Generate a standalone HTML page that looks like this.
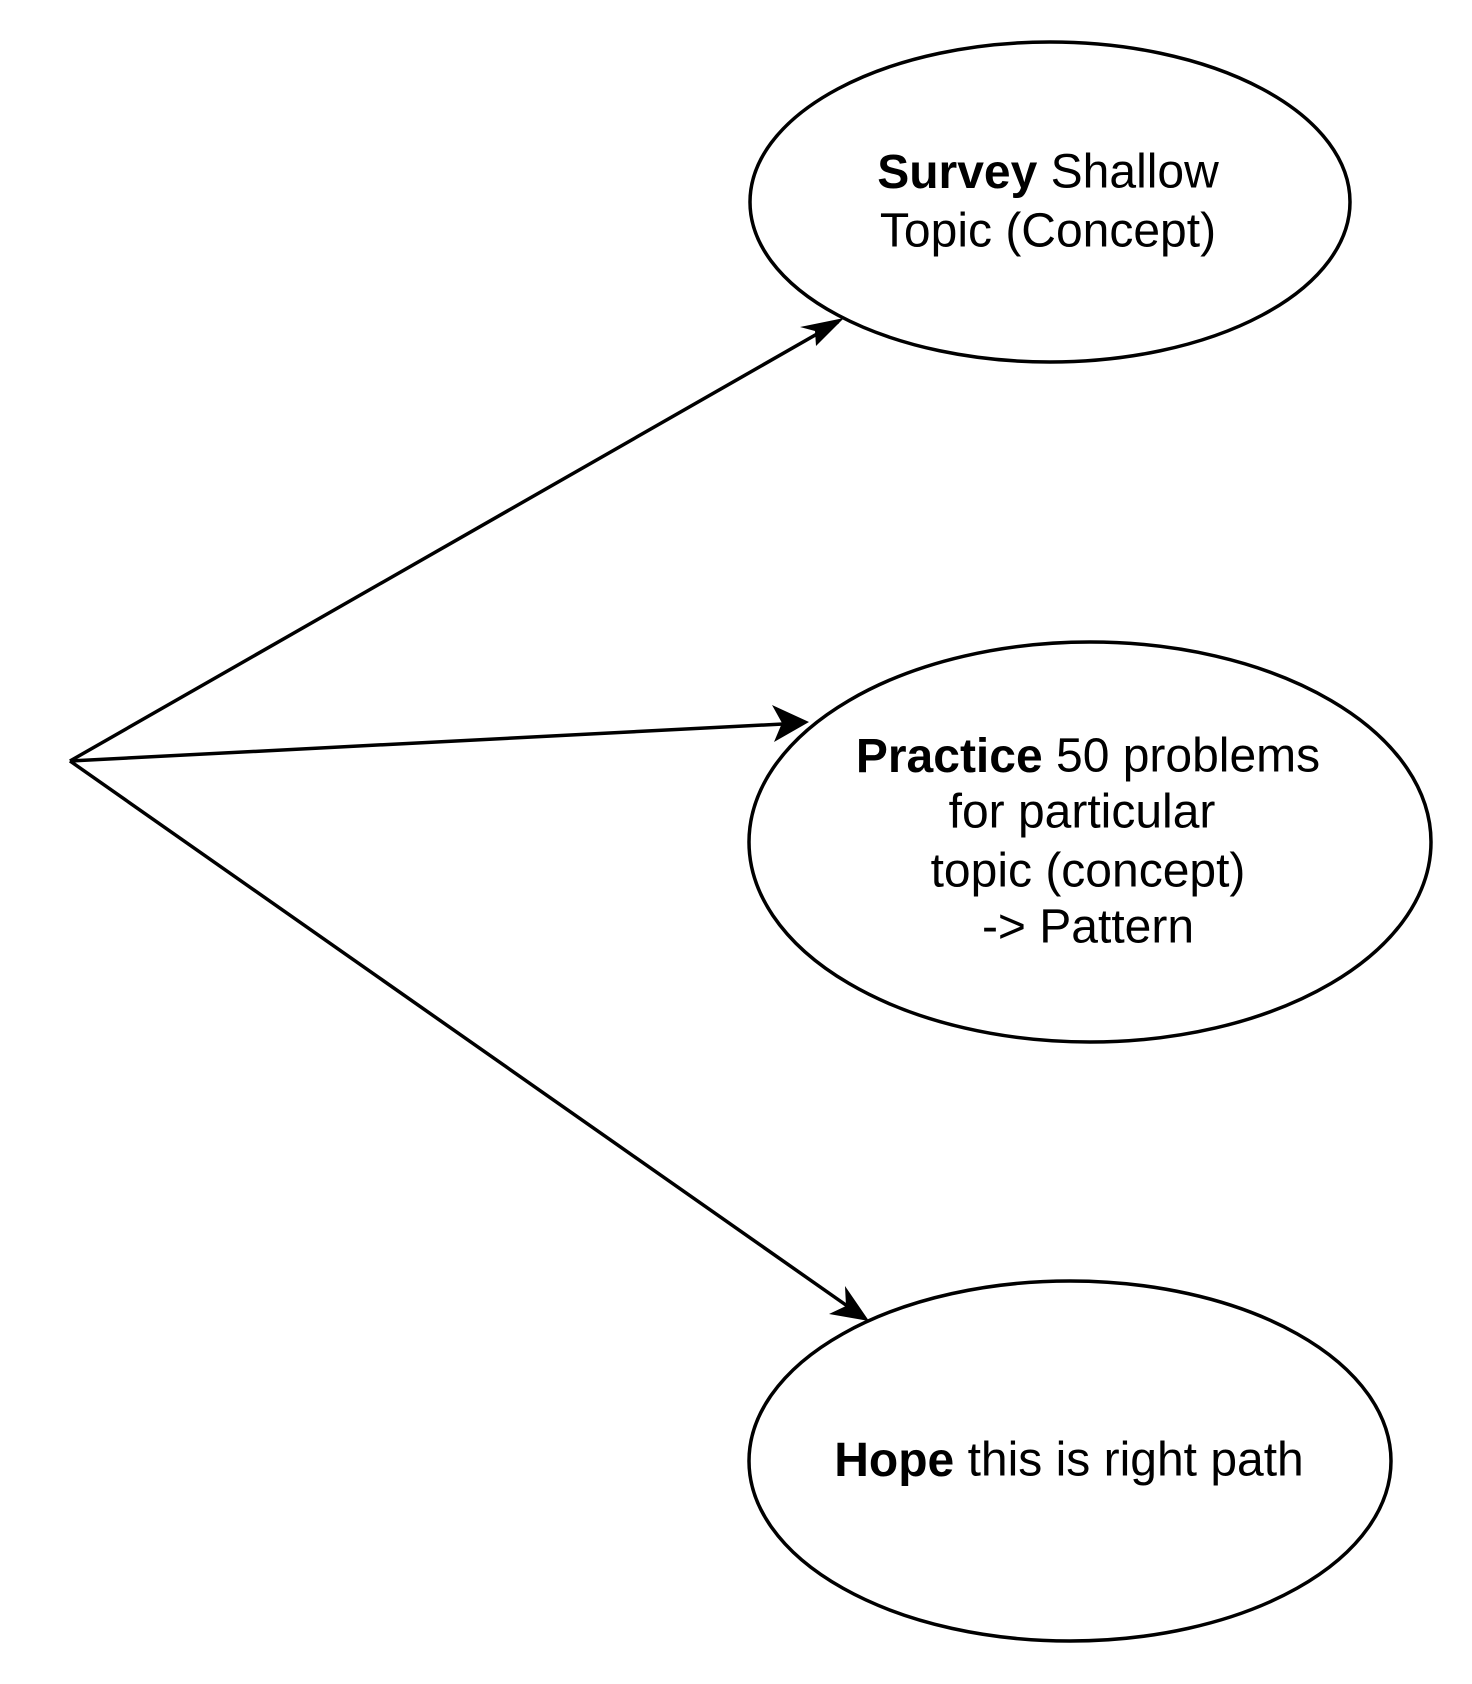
<!DOCTYPE html>
<html><head><meta charset="utf-8"><style>html,body{margin:0;padding:0;background:#fff}svg{display:block}</style></head>
<body>
<svg width="1472" height="1684" viewBox="0 0 1472 1684" xmlns="http://www.w3.org/2000/svg" font-family="Liberation Sans, Arial, sans-serif" font-size="48" fill="#000">
<g fill="none" stroke="#000" stroke-width="3.5">
<ellipse cx="1050" cy="202" rx="300" ry="160"/>
<ellipse cx="1090" cy="842" rx="341" ry="200"/>
<ellipse cx="1070" cy="1461" rx="321" ry="180"/>
<line x1="70" y1="761" x2="838" y2="322"/>
<line x1="70" y1="761" x2="802" y2="723"/>
<line x1="70" y1="761" x2="863" y2="1317"/>
</g>
<path d="M844,318 L800,327 L815,331 L816,346 Z"/>
<path d="M809,722 L772,705 L782,723 L774,742 Z"/>
<path d="M869,1321 L845,1286 L846,1306 L829,1314 Z"/>
<g text-anchor="middle" dominant-baseline="central">
<text x="1048" y="172"><tspan font-weight="bold">Survey</tspan> Shallow</text>
<text x="1048" y="231">Topic (Concept)</text>
<text x="1088" y="756"><tspan font-weight="bold">Practice</tspan> 50 problems</text>
<text x="1082" y="812">for particular</text>
<text x="1088" y="871">topic (concept)</text>
<text x="1088" y="927">-&gt; Pattern</text>
<text x="1069" y="1460"><tspan font-weight="bold">Hope</tspan> this is right path</text>
</g>
</svg>
</body></html>
